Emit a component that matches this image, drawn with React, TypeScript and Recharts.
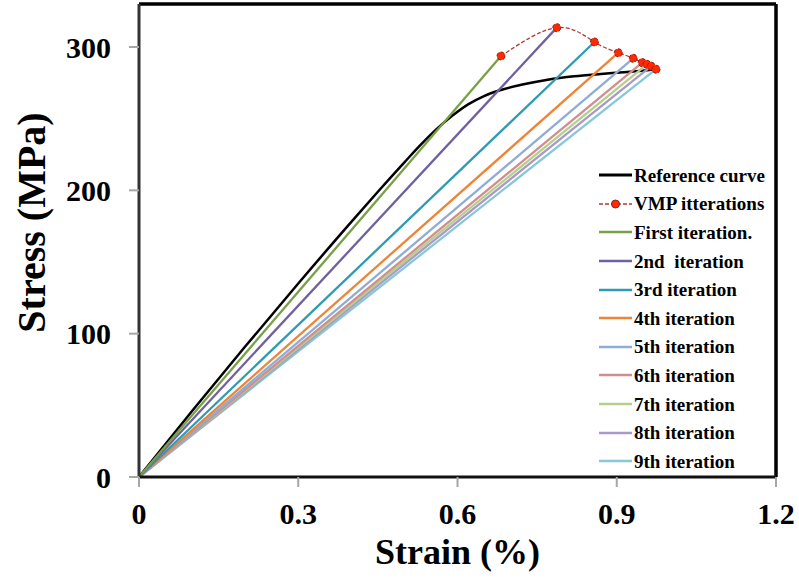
import React from 'react';
import { Legend, Line, LineChart, ReferenceLine, XAxis, YAxis } from 'recharts';

// Reference stress-strain curve
const refStrain = [0, 0.1, 0.2, 0.3, 0.4, 0.45, 0.5, 0.53, 0.56, 0.59, 0.62, 0.65, 0.68, 0.72, 0.77, 0.82, 0.87, 0.92, 0.974];
const refStress = [0, 46, 91, 135, 178, 199, 219.5, 231.5, 242.5, 252, 260, 265.8, 269.8, 273.6, 277.2, 279.6, 281.2, 282.6, 284.5];

// VMP iteration end points (one per iteration)
const vmpStrain = [0.682, 0.787, 0.858, 0.903, 0.931, 0.948, 0.957, 0.965, 0.974];
const vmpStress = [293.7, 313.5, 303.5, 296.0, 292.1, 289.1, 287.9, 286.6, 284.5];

const iterationNames = [
  'First iteration.',
  '2nd  iteration',
  '3rd iteration',
  '4th iteration',
  '5th iteration',
  '6th iteration',
  '7th iteration',
  '8th iteration',
  '9th iteration',
];
const iterationColors = ['#78A046', '#7160A0', '#2E9BB3', '#EE8436', '#8EACD6', '#D08E8C', '#B5CF8C', '#A999C7', '#86C7DA'];

const xTicks = [0, 0.3, 0.6, 0.9, 1.2];
const yTicks = [0, 100, 200, 300];
const X_MAX = 1.2;
const Y_MAX = 330;

const FONT = '"Liberation Serif", "Times New Roman", serif';
const VMP_LINE = '#B23A3A';
const VMP_DOT = '#FF2A00';

const refData = refStrain.map((x, i) => ({ x, y: refStress[i] }));
const vmpData = vmpStrain.map((x, i) => ({ x, y: vmpStress[i] }));
const iterationData = vmpStrain.map((x, i) => [
  { x: 0, y: 0 },
  { x, y: vmpStress[i] },
]);

function LegendRows() {
  const rows = [
    { name: 'Reference curve', color: '#000', kind: 'ref' },
    { name: 'VMP itterations', color: VMP_LINE, kind: 'vmp' },
    ...iterationNames.map((name, i) => ({ name, color: iterationColors[i], kind: 'line' })),
  ];
  return (
    <div style={{ fontFamily: FONT, fontWeight: 'bold', fontSize: 19 }}>
      {rows.map((r) => (
        <div key={r.name} style={{ height: 28.6, display: 'flex', alignItems: 'center' }}>
          <svg width={36} height={12} style={{ flex: 'none' }}>
            {r.kind === 'vmp' ? (
              <>
                <line x1={1} x2={34} y1={6} y2={6} stroke={r.color} strokeWidth={1.3} strokeDasharray="4 2" />
                <circle cx={17.5} cy={6} r={4} fill={VMP_DOT} stroke="#8B2020" strokeWidth={1} />
              </>
            ) : (
              <line x1={1} x2={34} y1={6} y2={6} stroke={r.color} strokeWidth={r.kind === 'ref' ? 3 : 2.5} />
            )}
          </svg>
          <span style={{ whiteSpace: 'pre', lineHeight: 1 }}>{r.name}</span>
        </div>
      ))}
    </div>
  );
}

export default function App() {
  const tickStyle = { fontSize: 30, fontWeight: 'bold', fill: '#000', fontFamily: FONT };
  return (
    <div style={{ width: 799, height: 584 }}>
      <style>{'body{margin:0}'}</style>
      <LineChart width={799} height={584} margin={{ top: 4, right: 23, bottom: 0, left: 0 }}>
        <XAxis
          dataKey="x"
          type="number"
          domain={[0, X_MAX]}
          ticks={xTicks}
          height={107}
          tickSize={10}
          tickMargin={16}
          tick={tickStyle}
          tickLine={{ stroke: '#A6A6A6', strokeWidth: 2 }}
          axisLine={{ stroke: '#111', strokeWidth: 3 }}
          label={{
            value: 'Strain (%)',
            position: 'insideBottom',
            offset: 20,
            style: { fontSize: 36, fontWeight: 'bold', fill: '#000', fontFamily: FONT },
          }}
        />
        <YAxis
          dataKey="y"
          type="number"
          domain={[0, Y_MAX]}
          ticks={yTicks}
          width={139}
          tickSize={10}
          tickMargin={18}
          tick={tickStyle}
          tickLine={{ stroke: '#A6A6A6', strokeWidth: 2 }}
          axisLine={{ stroke: '#333', strokeWidth: 3 }}
          label={{
            value: 'Stress (MPa)',
            angle: -90,
            position: 'center',
            dx: -39,
            dy: -18,
            style: { fontSize: 40, fontWeight: 'bold', fill: '#000', fontFamily: FONT },
          }}
        />
        {/* plot area frame (top and right edges) */}
        <ReferenceLine y={Y_MAX} stroke="#000" strokeWidth={3.5} />
        <ReferenceLine x={X_MAX} stroke="#000" strokeWidth={3.5} />
        <Legend
          layout="vertical"
          align="center"
          verticalAlign="middle"
          wrapperStyle={{ left: 598, top: 161, width: 190 }}
          content={() => <LegendRows />}
        />
        <Line
          data={refData}
          dataKey="y"
          type="monotone"
          stroke="#000"
          strokeWidth={2.5}
          dot={false}
          isAnimationActive={false}
        />
        {iterationData
          .map((d, i) => (
            <Line
              key={iterationNames[i]}
              data={d}
              dataKey="y"
              type="linear"
              stroke={iterationColors[i]}
              strokeWidth={2.3}
              dot={false}
              isAnimationActive={false}
            />
          ))
          .reverse()}
        <Line
          data={vmpData}
          dataKey="y"
          type="natural"
          stroke={VMP_LINE}
          strokeWidth={1.3}
          strokeDasharray="4 2"
          dot={{ r: 4, fill: VMP_DOT, stroke: '#8B2020', strokeWidth: 1 }}
          isAnimationActive={false}
        />
      </LineChart>
    </div>
  );
}
